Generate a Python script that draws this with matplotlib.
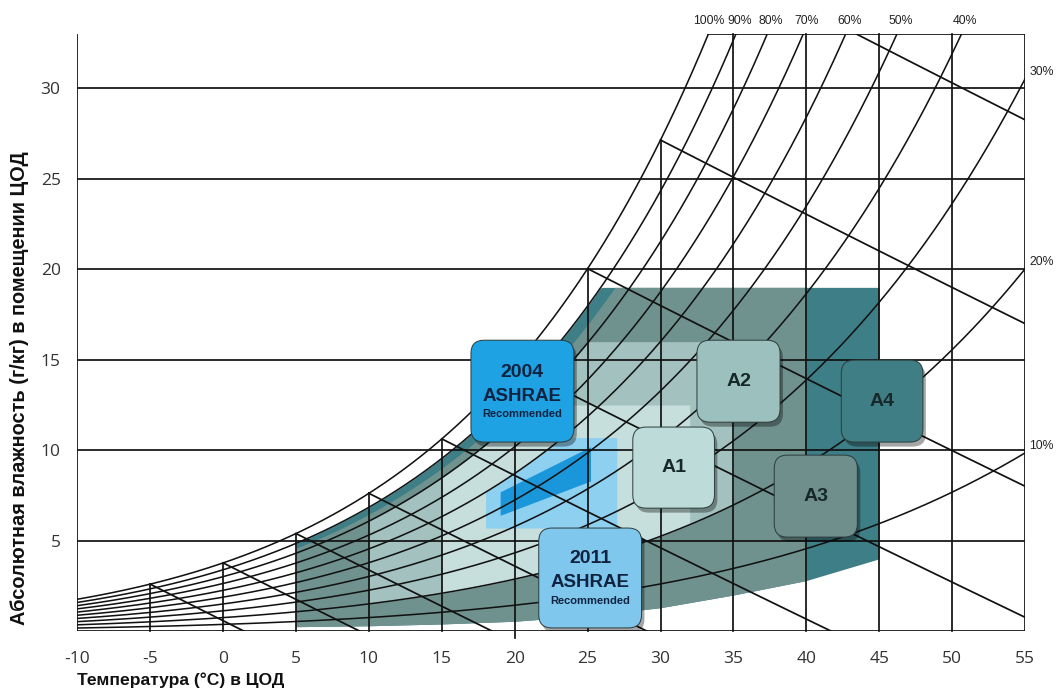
import numpy as np
import matplotlib
matplotlib.use("Agg")
import matplotlib.pyplot as plt
from matplotlib.patches import FancyBboxPatch

# ---------------- data ----------------
temp_ticks = [-10, -5, 0, 5, 10, 15, 20, 25, 30, 35, 40, 45, 50, 55]
hum_ticks = [5, 10, 15, 20, 25, 30]
rh_levels = [100, 90, 80, 70, 60, 50, 40, 30, 20, 10]
rh_top_labels = ["100%", "90%", "80%", "70%", "60%", "50%", "40%"]
rh_right_labels = ["30%", "20%", "10%"]
enthalpy_start_temps = [-5, 0, 5, 10, 15, 20, 25, 30, 35]
x_min, x_max, w_top = -10, 55, 33.0

# ASHRAE 2011 classes (temperature range, max RH, max humidity ratio)
a4_env = dict(t_min=5, t_max=45, rh_max=90, w_max=19.0)
a3_env = dict(t_min=5, t_max=40, rh_max=85, w_max=19.0)
a2_env = dict(t_min=10, t_max=35, rh_max=80, w_max=16.0, rh_min=20)
a1_env = dict(t_min=15, t_max=32, rh_max=80, w_max=12.5, rh_min=20)
# lower edge of A3/A4 envelope
low_curve_t = [5, 10, 15, 20, 25, 30, 35, 40, 45]
low_curve_w = [0.25, 0.3, 0.4, 0.55, 0.85, 1.3, 2.0, 2.8, 4.0]
# 2011 recommended
rec2011 = dict(t_min=18, t_max=27, w_min=5.7, w_max=10.7, rh_max=60)
# 2004 recommended band
rec2004_t = [19.0, 25.2]
rec2004_low = [6.4, 8.3]
rec2004_high = [7.7, 10.2]

box_titles = ["2004", "A2", "A4", "A1", "A3", "2011"]
box_sub = ["ASHRAE", "", "", "", "", "ASHRAE"]
box_note = ["Recommended", "", "", "", "", "Recommended"]

# ---------------- styles / layout ----------------
c_a4, c_a3, c_a2, c_a1 = "#3e7e86", "#6f928f", "#a3c2bf", "#c6dfdc"
c_r11, c_r04 = "#8ed0f0", "#1a97da"
box_colors = ["#1ea2e4", "#9cc0bd", "#3f7e85", "#bddcd9", "#6f8f8d", "#80c7ee"]
# box extents in data units (x0, x1, y0, y1)
box_ext = [(17.0, 24.06, 10.45, 16.08), (32.5, 38.2, 11.55, 16.08),
           (42.4, 48.0, 10.45, 14.98), (28.1, 33.7, 6.8, 11.28),
           (37.8, 43.5, 5.2, 9.73), (21.65, 28.7, 0.18, 5.7)]
top_label_dx = [0.0, 3.0, 2.5, 2.5, 2.5, 2.5, 2.5]
LW = 1.25
LC = "#111111"
SANS = ["Liberation Sans", "DejaVu Sans"]

W, H = 1057, 693
AX_L, AX_R, AX_T, AX_B = 77.3, 1025.0, 34.0, 631.2


def w_sat(T, rh=100.0):
    T = np.asarray(T, dtype=float)
    ps = 0.61094 * np.exp(17.625 * T / (T + 243.04))
    pv = rh / 100.0 * ps
    return 622.0 * pv / (101.325 - pv)


def enth(T, w):
    return 1.006 * T + w / 1000.0 * (2501 + 1.86 * T)


def w_from_h(h, T):
    return (h - 1.006 * T) / (2501 + 1.86 * T) * 1000.0


fig = plt.figure(figsize=(W / 100, H / 100), dpi=100)
ax = fig.add_axes([AX_L / W, 1 - AX_B / H, (AX_R - AX_L) / W, (AX_B - AX_T) / H])
ax.set_xlim(x_min, x_max)
ax.set_ylim(0, w_top)
for s in ax.spines.values():
    s.set_visible(False)

# ---------------- envelopes ----------------
def env_fill(env, color, lower=None):
    T = np.linspace(env["t_min"], env["t_max"], 300)
    up = np.minimum(w_sat(T, env["rh_max"]), env["w_max"])
    if lower is None:
        lo = np.interp(T, low_curve_t, low_curve_w)
    else:
        lo = w_sat(T, lower)
    ax.fill_between(T, lo, up, color=color, lw=0, zorder=1)

env_fill(a4_env, c_a4)
env_fill(a3_env, c_a3)
env_fill(a2_env, c_a2, lower=a2_env["rh_min"])
env_fill(a1_env, c_a1, lower=a1_env["rh_min"])

T = np.linspace(rec2011["t_min"], rec2011["t_max"], 200)
ax.fill_between(T, rec2011["w_min"],
                np.minimum(w_sat(T, rec2011["rh_max"]), rec2011["w_max"]),
                color=c_r11, lw=0, zorder=1.1)
ax.fill_between(rec2004_t, rec2004_low, rec2004_high, color=c_r04, lw=0, zorder=1.2)

# ---------------- grid ----------------
for y in hum_ticks:
    ax.plot([x_min, x_max], [y, y], color=LC, lw=LW, zorder=2)
for t in temp_ticks[1:-1]:
    y0 = -0.35 if t == 20 else 0
    ax.plot([t, t], [y0, min(w_top, float(w_sat(t)))], color=LC, lw=LW, zorder=2,
            clip_on=False)
ax.plot([x_min, x_min], [0, w_top], color=LC, lw=LW, zorder=2)
ax.plot([x_max, x_max], [0, w_top], color=LC, lw=LW, zorder=2)
ax.plot([x_min, x_max], [0, 0], color=LC, lw=LW, zorder=2)

Tg = np.linspace(x_min, x_max, 3000)
t_sat_top = float(np.interp(w_top, w_sat(Tg), Tg))
ax.plot([t_sat_top, x_max], [w_top, w_top], color=LC, lw=LW, zorder=2)

# RH curves
top_x = []
right_y = []
for rh in rh_levels:
    w = w_sat(Tg, rh)
    if w.max() > w_top:
        te = float(np.interp(w_top, w, Tg))
        m = Tg < te
        xs = np.append(Tg[m], te)
        ys = np.append(w[m], w_top)
        top_x.append(te)
    else:
        xs, ys = Tg, w
        right_y.append(float(w[-1]))
    ax.plot(xs, ys, color=LC, lw=LW * 0.9, zorder=2)

# enthalpy lines
for t0 in enthalpy_start_temps:
    ws0 = float(w_sat(t0))
    h0 = float(enth(t0, ws0))
    ts = t0 if ws0 <= w_top else (h0 - w_top / 1000 * 2501) / (1.006 + w_top / 1000 * 1.86)
    te = min(h0 / 1.006, x_max)
    TT = np.linspace(ts, te, 100)
    ax.plot(TT, w_from_h(h0, TT), color=LC, lw=LW, zorder=2)

# RH labels
for lab, xv, dx in zip(rh_top_labels, top_x, top_label_dx):
    ax.annotate(lab, (xv, w_top), xytext=(dx, 5), textcoords="offset points",
                ha="center", va="bottom", fontsize=8.8, family=SANS, color="#222")
for lab, yv in zip(rh_right_labels, right_y):
    ax.annotate(lab, (x_max, yv), xytext=(3, 5), textcoords="offset points",
                ha="left", va="center", fontsize=8.8, family=SANS, color="#222")

# ticks
ax.set_xticks(temp_ticks)
ax.set_xticklabels([str(t) for t in temp_ticks])
ax.set_yticks(hum_ticks)
ax.set_yticklabels([str(h) for h in hum_ticks])
ax.tick_params(length=0, labelsize=12.5, colors="#333")
ax.tick_params(axis="y", pad=12)
ax.tick_params(axis="x", pad=14)
for lbl in ax.get_xticklabels() + ax.get_yticklabels():
    lbl.set_family(["Open Sans", "DejaVu Sans"])

# axis labels
fig.text(20 / W, 1 - 388 / H, "Абсолютная влажность (г/кг) в помещении ЦОД",
         rotation=90, ha="center", va="center", fontsize=14.4, fontweight="bold",
         family=SANS, color="#111")
fig.text(77 / W, 1 - 685 / H, "Температура (°C) в ЦОД", ha="left", va="baseline",
         fontsize=12.6, fontweight="bold", family=SANS, color="#111")

# ---------------- boxes ----------------
px_x = (AX_R - AX_L) / (x_max - x_min)
px_y = (AX_B - AX_T) / w_top
for title, sub, note, col, (x0, x1, y0, y1) in zip(box_titles, box_sub, box_note,
                                                   box_colors, box_ext):
    rs = 0.9
    sh = FancyBboxPatch((x0 + 0.2, y0 - 0.25), x1 - x0, y1 - y0,
                        boxstyle=f"round,pad=0,rounding_size={rs}",
                        mutation_aspect=px_x / px_y,
                        facecolor="#000000", alpha=0.35, lw=0, zorder=3)
    ax.add_patch(sh)
    bx = FancyBboxPatch((x0, y0), x1 - x0, y1 - y0,
                        boxstyle=f"round,pad=0,rounding_size={rs}",
                        mutation_aspect=px_x / px_y,
                        facecolor=col, edgecolor="#2a3b3b", lw=0.7, zorder=3.1)
    ax.add_patch(bx)
    cx, cy = (x0 + x1) / 2, (y0 + y1) / 2
    if sub:
        ax.text(cx, cy + 19 / px_y, title, ha="center", va="center", fontsize=14,
                fontweight="bold", family=SANS, color="#0f2340", zorder=4)
        ax.text(cx, cy - 5 / px_y, sub, ha="center", va="center", fontsize=13.5,
                fontweight="bold", family=SANS, color="#0f2340", zorder=4)
        ax.text(cx, cy - 23 / px_y, note, ha="center", va="center", fontsize=8,
                fontweight="bold", family=SANS, color="#0f2340", zorder=4)
    else:
        ax.text(cx, cy, title, ha="center", va="center", fontsize=14, fontweight="bold",
                family=SANS, color="#16282a", zorder=4)

fig.savefig("out.png", dpi=100)
